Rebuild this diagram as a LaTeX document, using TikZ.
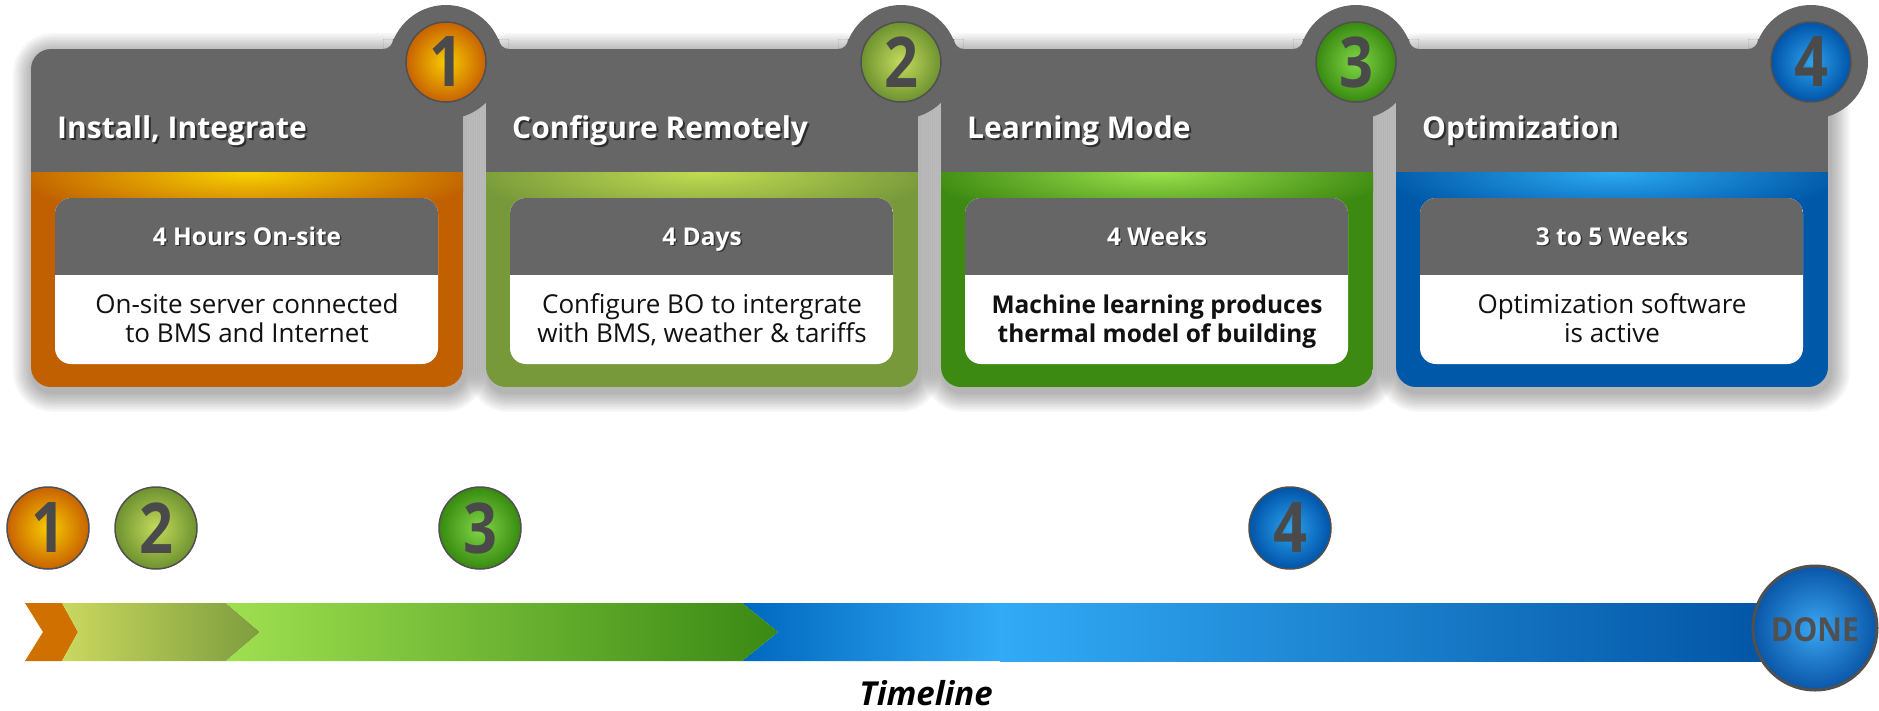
\documentclass[tikz,border=0pt]{standalone}
\usepackage{fontspec}
\setmainfont{Open Sans}
\definecolor{hdr}{HTML}{666666}
\definecolor{numgrey}{HTML}{4A4A4A}
\definecolor{ringedge}{HTML}{505050}
\definecolor{bodyink}{HTML}{111111}
\definecolor{cb1}{HTML}{C06000}
\definecolor{ch1}{HTML}{F8D200}
\definecolor{cb2}{HTML}{77993A}
\definecolor{ch2}{HTML}{C2DC52}
\definecolor{cb3}{HTML}{3D8A12}
\definecolor{ch3}{HTML}{9CE04C}
\definecolor{cb4}{HTML}{0058A8}
\definecolor{ch4}{HTML}{2CAAF2}
\definecolor{ci1}{HTML}{F8CC00}
\definecolor{co1}{HTML}{C86200}
\definecolor{ci2}{HTML}{C4DC5C}
\definecolor{co2}{HTML}{6E9230}
\definecolor{ci3}{HTML}{80D646}
\definecolor{co3}{HTML}{388A10}
\definecolor{ci4}{HTML}{2EA2EE}
\definecolor{co4}{HTML}{0054A8}
\definecolor{barorange}{HTML}{D07000}
\definecolor{yg1}{HTML}{CAD85E}
\definecolor{yg2}{HTML}{7D9D3E}
\definecolor{gr1}{HTML}{9FE050}
\definecolor{gr2}{HTML}{3A8914}
\definecolor{bl0}{HTML}{0068C0}
\definecolor{bl1}{HTML}{32AAF5}
\definecolor{bl2}{HTML}{0050A0}
\definecolor{donein}{HTML}{3AA6F2}
\definecolor{doneout}{HTML}{0A56A8}
\newcommand\bodyreg{\fontsize{26}{29}\selectfont}
\newcommand\bodybold{\fontsize{24.5}{29}\selectfont\bfseries}
\tikzset{
  hdrtext/.style={font=\fontsize{30}{36}\selectfont\bfseries, text=white, inner sep=0pt, anchor=base west},
  hdrshadow/.style={hdrtext, text=black, opacity=0.55},
  subtext/.style={font=\fontsize{24.5}{29}\selectfont\bfseries, text=white, inner sep=0pt, anchor=base},
  subshadow/.style={subtext, text=black, opacity=0.5},
  bodytext/.style={text=bodyink, inner sep=0pt, anchor=base},
  numtext/.style={font=\fontsize{70}{70}\selectfont\bfseries, text=numgrey, inner sep=0pt, xscale=0.85},
  numdisc/.style={draw=ringedge, line width=1.5pt},
}
\begin{document}
\begin{tikzpicture}[x=1pt,y=-1pt]
\useasboundingbox (0,0) rectangle (1879,710);
\fill[white] (0,0) rectangle (1879,710);

% card shadows
\foreach \i in {1,...,4}{
  \pgfmathsetmacro\L{31+455*(\i-1)}
  \pgfmathsetmacro\R{\L+432}
  \foreach \k in {1,...,9}{
    \pgfmathsetmacro\rr{20+2.2*\k}
    \pgfmathsetmacro\dd{2.2*\k}
    \fill[black, opacity=0.035, rounded corners=\rr pt]
      (\L-\dd+2,49-\dd+4) rectangle (\R+\dd+2,387+\dd+5);
  }
}

% cards
\foreach \i/\ttl/\sub/\la/\lb/\fs in {
  1/{Install, Integrate}/{4 Hours On-site}/{On-site server connected}/{to BMS and Internet}/\bodyreg,
  2/{Configure Remotely}/{4 Days}/{Configure BO to intergrate}/{with BMS, weather \& tariffs}/\bodyreg,
  3/{Learning Mode}/{4 Weeks}/{Machine learning produces}/{thermal model of building}/\bodybold,
  4/{Optimization}/{3 to 5 Weeks}/{Optimization software}/{is active}/\bodyreg}{
  \pgfmathsetmacro\L{31+455*(\i-1)}
  \pgfmathsetmacro\R{\L+432}
  \pgfmathsetmacro\C{\L+216}
  \begin{scope}
    \clip[rounded corners=20pt] (\L,49) rectangle (\R,387);
    \fill[hdr] (\L,49) rectangle (\R,172);
    \fill[cb\i] (\L,172) rectangle (\R,387);
    \begin{scope}
      \clip (\L,172) rectangle (\R,387);
      \shade[inner color=ch\i, outer color=cb\i] (\C,172) ellipse [x radius=235, y radius=50];
    \end{scope}
  \end{scope}
  \fill[white, rounded corners=16pt] (\L+24,198) rectangle (\R-25,364);
  \begin{scope}
    \clip[rounded corners=16pt] (\L+24,198) rectangle (\R-25,364);
    \fill[hdr] (\L+24,198) rectangle (\R-25,275);
  \end{scope}
  \node[hdrshadow] at (\L+28,140) {\ttl};
  \node[hdrtext] (title\i) at (\L+26,138) {\ttl};
  \node[subshadow] at (\C+1.5,246.5) {\sub};
  \node[subtext] (sub\i) at (\C,245) {\sub};
  \node[bodytext, font=\fs] (bodya\i) at (\C,313) {\la};
  \node[bodytext, font=\fs] (bodyb\i) at (\C,342) {\lb};
}

% numbered rings on the cards
\foreach \i in {1,...,4}{
  \pgfmathsetmacro\X{31+455*(\i-1)+415}
  \fill[hdr] (\X,62) circle (57);
  \begin{scope}
    \clip (\X-62.9,39) rectangle (\X-45,49.5);
    \fill[hdr, even odd rule] (\X-62.9,39) rectangle (\X-45,49.5) (\X-62.9,39) circle (10);
  \end{scope}
  \ifnum\i<4
  \begin{scope}
    \clip (\X+45,39) rectangle (\X+62.9,49.5);
    \fill[hdr, even odd rule] (\X+45,39) rectangle (\X+62.9,49.5) (\X+62.9,39) circle (10);
  \end{scope}
  \fi
  \shadedraw[numdisc, inner color=ci\i, outer color=co\i] (\X,62) circle (40);
  \node[numtext] (cardnum\i) at (\X,62) {\i};
}

% timeline bar
\fill[barorange] (25,603) -- (62,603) -- (78,632) -- (62,661) -- (25,661) -- (43,632) -- cycle;
\shade[left color=yg1, right color=yg2] (62,603) -- (226,603) -- (260,632) -- (226,661) -- (62,661) -- (78,632) -- cycle;
\shade[left color=bl0, right color=bl1] (742,603) -- (1001,603) -- (1001,661) -- (742,661) -- (778,632) -- cycle;
\shade[left color=bl1, right color=bl2] (1000,603) rectangle (1815,661);
\shade[left color=gr1, right color=gr2] (226,603) -- (742,603) -- (778,632) -- (742,661) -- (226,661) -- (260,632) -- cycle;

% timeline markers
\foreach \i/\x in {1/48, 2/156, 3/480, 4/1290}{
  \shadedraw[numdisc, inner color=ci\i, outer color=co\i] (\x,528) circle (41);
  \node[numtext] (tlnum\i) at (\x,528) {\i};
}

\shadedraw[inner color=donein, outer color=doneout, draw=ringedge, line width=3pt] (1815,628) circle (62);
\node[font=\fontsize{33}{33}\selectfont\bfseries, text=ringedge, inner sep=0pt, xscale=0.92] (done) at (1815,630) {DONE};

\node[font=\fontsize{33}{33}\selectfont\bfseries\itshape, text=black, inner sep=0pt, anchor=base] (timeline) at (926,705) {Timeline};
\end{tikzpicture}
\end{document}
